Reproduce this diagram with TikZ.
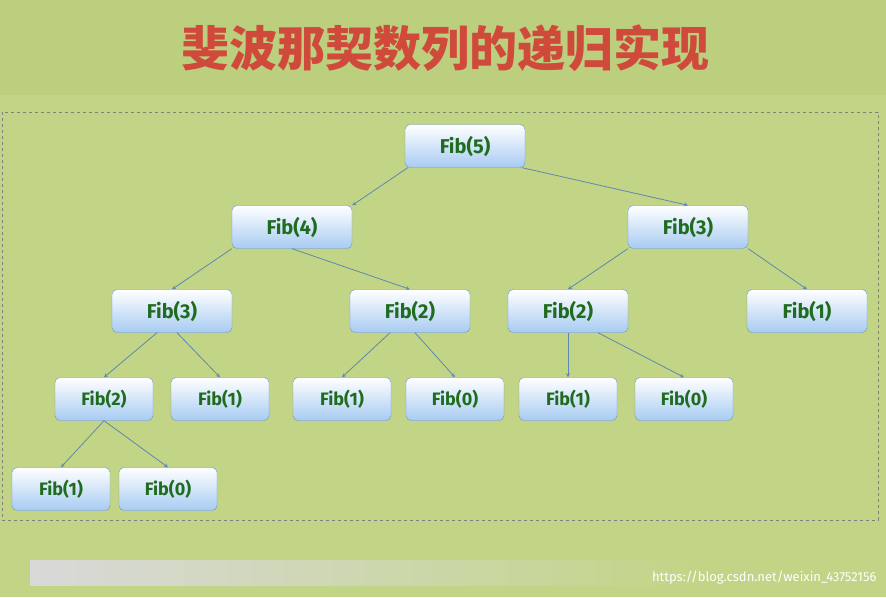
\documentclass[tikz,border=0pt]{standalone}
\usepackage{fontspec}
\setmainfont{Fira Sans}
\newfontfamily\cjk{Noto Sans CJK SC}
\definecolor{bg}{HTML}{C2D586}
\definecolor{bgtop}{HTML}{BCCF7E}
\definecolor{boxbot}{HTML}{A8CBF2}
\definecolor{boxdraw}{HTML}{6E93C2}
\definecolor{edc}{HTML}{5F88AE}
\definecolor{txt}{HTML}{1F6B1F}
\definecolor{ttl}{HTML}{D04A3C}
\begin{document}
\begin{tikzpicture}[x=1pt,y=-1pt,
  fb/.style={draw=boxdraw, rounded corners=5pt, top color=white, bottom color=boxbot,
    minimum width=120pt, minimum height=43pt, font=\fontsize{20}{20}\selectfont\bfseries, text=txt},
  fs/.style={fb, minimum width=98pt, font=\fontsize{18}{18}\selectfont\bfseries},
  ed/.style={->, >=stealth, draw=edc, thick}]
\fill[bg] (0,0) rectangle (886,597);
\fill[bgtop] (0,0) rectangle (886,95);
\useasboundingbox (0,0) rectangle (886,597);
\shade[left color=white!70!gray, right color=bg] (30,560) rectangle (700,585);
\node[font=\cjk\fontsize{48}{48}\selectfont\bfseries, text=ttl] (title) at (445,48) {斐波那契数列的递归实现};
\draw[dashed, gray] (2,112) rectangle (878,520);
\node[fb] (n5) at (465,146) {Fib(5)};
\node[fb] (n4) at (292,227) {Fib(4)};
\node[fb] (n3r) at (688,227) {Fib(3)};
\node[fb] (a) at (172,311) {Fib(3)};
\node[fb] (b) at (410,311) {Fib(2)};
\node[fb] (c) at (568,311) {Fib(2)};
\node[fb] (d) at (807,311) {Fib(1)};
\node[fs] (e) at (104,399) {Fib(2)};
\node[fs] (f) at (220,399) {Fib(1)};
\node[fs] (g) at (342,399) {Fib(1)};
\node[fs] (h) at (455,399) {Fib(0)};
\node[fs] (i) at (568,399) {Fib(1)};
\node[fs] (j) at (684,399) {Fib(0)};
\node[fs] (k) at (61,489) {Fib(1)};
\node[fs] (l) at (168,489) {Fib(0)};
\draw[ed] (n5.south west)++(3,0) -- (n4.north east);
\draw[ed] (n5.south east)++(-3,0) -- (n3r.north);
\draw[ed] (n4.south west) -- (a.north);
\draw[ed] (n4.south) -- (b.north);
\draw[ed] (n3r.south west) -- (c.north);
\draw[ed] (n3r.south east) -- (d.north);
\draw[ed] (a.south) ++(-15,0) -- (e.north);
\draw[ed] (a.south) ++(5,0) -- (f.north);
\draw[ed] (b.south) ++(-20,0) -- (g.north);
\draw[ed] (b.south) ++(5,0) -- (h.north);
\draw[ed] (c.south) -- (i.north);
\draw[ed] (c.south) ++(30,0) -- (j.north);
\draw[ed] (e.south) -- (k.north);
\draw[ed] (e.south) -- (l.north);
\node[anchor=east, text=white, font=\fontsize{13}{13}\selectfont] (wm) at (880,578) {https://blog.csdn.net/weixin\_43752156};
\end{tikzpicture}
\end{document}
